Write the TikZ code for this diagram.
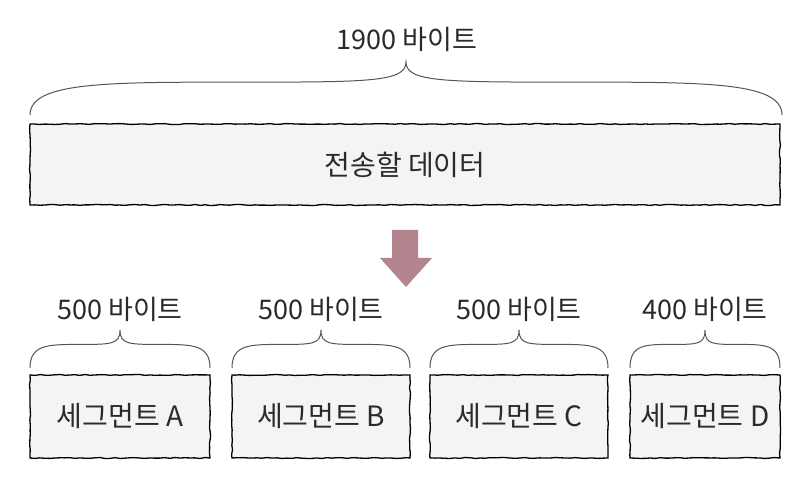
\documentclass[tikz,border=0pt]{standalone}
\usepackage{fontspec}
\newfontfamily\kofont{Noto Sans CJK KR}
\usetikzlibrary{positioning,decorations.pathmorphing,calc}
\definecolor{boxfill}{HTML}{F4F4F4}
\definecolor{arrowmauve}{HTML}{B2858F}
\definecolor{inkgray}{HTML}{2A2A2A}
\definecolor{bracegray}{HTML}{555555}
\newcommand{\sketchbrace}[4]{% left x, right x, end y, tip y
  \pgfmathsetmacro\brMid{(#1+#2)/2}
  \pgfmathsetmacro\brHalf{(#2-#1)/2}
  \pgfmathsetmacro\brFlat{#3+0.62*(#4-#3)}
  \draw[bracestyle] (#1,#3) .. controls (#1,\brFlat) and ({#1+0.2*\brHalf},\brFlat) .. ({#1+0.55*\brHalf},\brFlat)
    .. controls ({\brMid-0.1*\brHalf},\brFlat) and (\brMid,\brFlat) .. (\brMid,#4)
    .. controls (\brMid,\brFlat) and ({\brMid+0.1*\brHalf},\brFlat) .. ({#2-0.55*\brHalf},\brFlat)
    .. controls ({#2-0.2*\brHalf},\brFlat) and (#2,\brFlat) .. (#2,#3);
}
\tikzset{
  sbox/.style={draw=black, line width=1.3pt, fill=boxfill, decorate,
    decoration={random steps, segment length=5pt, amplitude=0.5pt},
    font=\kofont\fontsize{28}{32}\selectfont, text=inkgray, inner sep=0pt},
  blabel/.style={font=\kofont\fontsize{27}{31}\selectfont, text=inkgray},
  bracestyle/.style={draw=bracegray, line width=1pt},
}
\begin{document}
\begin{tikzpicture}[x=1pt,y=1pt]
  \useasboundingbox (0,0) rectangle (806,500);
  \pgfmathsetseed{7}

  %% --- whole data ---
  \node[blabel] (total) at (407,461) {1900 바이트};
  \sketchbrace{30}{782}{385}{438}
  \node[sbox, minimum width=750pt, minimum height=81pt] (data) at (405,335.5) {전송할 데이터};

  % split arrow
  \fill[arrowmauve] (392,270) -- (418,270) -- (418,242) -- (432,242) -- (406,213)
    -- (380,242) -- (392,242) -- cycle;

  %% --- segments ---
  \foreach \name/\xl/\xr/\bytes/\letter in {segA/30/210/500/A, segB/232/410/500/B,
      segC/430/608/500/C, segD/630/780/400/D} {
    \node[blabel] (\name-size) at ({(\xl+\xr)/2},191) {\bytes\ 바이트};
    \sketchbrace{\xl}{\xr}{132}{170}
    \node[sbox, minimum width={(\xr-\xl)*1pt}, minimum height=83pt] (\name)
      at ({(\xl+\xr)/2},83.5) {세그먼트 \letter};
  }
\end{tikzpicture}
\end{document}
